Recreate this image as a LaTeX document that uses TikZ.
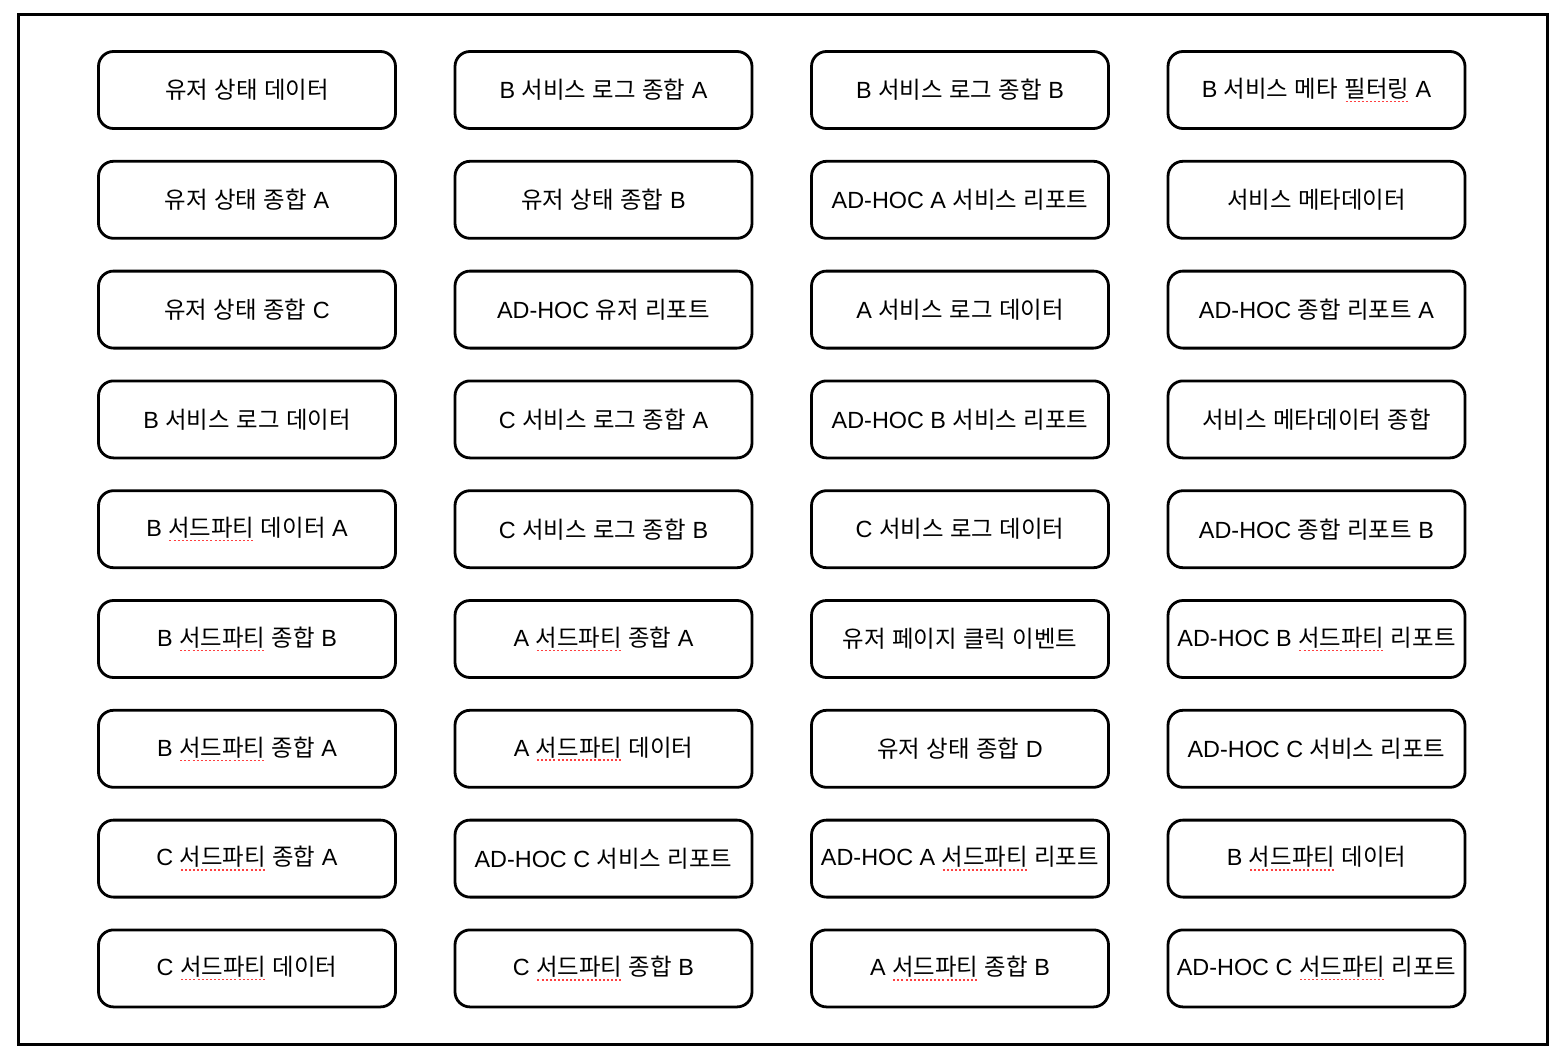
\documentclass[tikz,border=0pt]{standalone}
\usepackage{fontspec}
\setmainfont{Liberation Sans}
\newfontfamily\krfont{Noto Sans CJK KR}
\usepackage{xcolor}
\usetikzlibrary{positioning}

% Hangul syllables in the Korean font, the rest in Liberation Sans
\XeTeXinterchartokenstate=1
\newXeTeXintercharclass\hangulclass
\newcount\hcnt \hcnt="AC00
\loop\ifnum\hcnt<"D7A4 \XeTeXcharclass\hcnt=\hangulclass \advance\hcnt by 1 \repeat
\XeTeXinterchartoks 0 \hangulclass={\begingroup\krfont}
\XeTeXinterchartoks 4095 \hangulclass={\begingroup\krfont}
\XeTeXinterchartoks \hangulclass 0={\endgroup}
\XeTeXinterchartoks \hangulclass 4095={\endgroup}

% red dotted spell-check line under a word
\newcommand\typo[1]{\setbox0\hbox{#1}\rlap{\raisebox{-2.4pt}{\textcolor{red!75}{\hbox to \wd0{\xleaders\hbox to 2pt{\hss\rule{1pt}{0.7pt}\hss}\hfill}}}}\box0\relax}

\begin{document}
\begin{tikzpicture}[
  every node/.style={font=\fontsize{11.7}{14}\selectfont},
  tbl/.style={rectangle,draw,line width=1.4pt,rounded corners=7.5pt,outer sep=0pt,
    minimum width=148.5pt,minimum height=38.5pt,inner sep=1pt},
  frame/.style={draw,line width=1.5pt}
]
\useasboundingbox (0,0) rectangle (781pt,-532pt);
\draw[frame] (9.25pt,-7.5pt) rectangle (773.9pt,-522pt);

% column 1
\node[tbl] (userdata) at (123.5pt,-45pt) {유저 상태 데이터};
\node[tbl, below=16.4pt of userdata] (usersumA) {유저 상태 종합 A};
\node[tbl, below=16.4pt of usersumA] (usersumC) {유저 상태 종합 C};
\node[tbl, below=16.4pt of usersumC] (blogdata) {B 서비스 로그 데이터};
\node[tbl, below=16.4pt of blogdata] (bthirddataA) {B \typo{서드파티} 데이터 A};
\node[tbl, below=16.4pt of bthirddataA] (bthirdsumB) {B \typo{서드파티} 종합 B};
\node[tbl, below=16.4pt of bthirdsumB] (bthirdsumA) {B \typo{서드파티} 종합 A};
\node[tbl, below=16.4pt of bthirdsumA] (cthirdsumA) {C \typo{서드파티} 종합 A};
\node[tbl, below=16.4pt of cthirdsumA] (cthirddata) {C \typo{서드파티} 데이터};

% column 2
\node[tbl, right=29.75pt of userdata] (blogsumA) {B 서비스 로그 종합 A};
\node[tbl, below=16.4pt of blogsumA] (usersumB) {유저 상태 종합 B};
\node[tbl, below=16.4pt of usersumB] (adhocuser) {AD-HOC 유저 리포트};
\node[tbl, below=16.4pt of adhocuser] (clogsumA) {C 서비스 로그 종합 A};
\node[tbl, below=16.4pt of clogsumA] (clogsumB) {C 서비스 로그 종합 B};
\node[tbl, below=16.4pt of clogsumB] (athirdsumA) {A \typo{서드파티} 종합 A};
\node[tbl, below=16.4pt of athirdsumA] (athirddata) {A \typo{서드파티} 데이터};
\node[tbl, below=16.4pt of athirddata] (adhocsvcC) {AD-HOC C 서비스 리포트};
\node[tbl, below=16.4pt of adhocsvcC] (cthirdsumB) {C \typo{서드파티} 종합 B};

% column 3
\node[tbl, right=29.75pt of blogsumA] (blogsumB) {B 서비스 로그 종합 B};
\node[tbl, below=16.4pt of blogsumB] (adhocsvcA) {AD-HOC A 서비스 리포트};
\node[tbl, below=16.4pt of adhocsvcA] (alogdata) {A 서비스 로그 데이터};
\node[tbl, below=16.4pt of alogdata] (adhocsvcB) {AD-HOC B 서비스 리포트};
\node[tbl, below=16.4pt of adhocsvcB] (clogdata) {C 서비스 로그 데이터};
\node[tbl, below=16.4pt of clogdata] (userclick) {유저 페이지 클릭 이벤트};
\node[tbl, below=16.4pt of userclick] (usersumD) {유저 상태 종합 D};
\node[tbl, below=16.4pt of usersumD] (adhocthirdA) {AD-HOC A \typo{서드파티} 리포트};
\node[tbl, below=16.4pt of adhocthirdA] (athirdsumB) {A \typo{서드파티} 종합 B};

% column 4
\node[tbl, right=29.75pt of blogsumB] (bmetafilter) {B 서비스 메타 \typo{필터링} A};
\node[tbl, below=16.4pt of bmetafilter] (svcmeta) {서비스 메타데이터};
\node[tbl, below=16.4pt of svcmeta] (adhocsumA) {AD-HOC 종합 리포트 A};
\node[tbl, below=16.4pt of adhocsumA] (svcmetasum) {서비스 메타데이터 종합};
\node[tbl, below=16.4pt of svcmetasum] (adhocsumB) {AD-HOC 종합 리포트 B};
\node[tbl, below=16.4pt of adhocsumB] (adhocthirdB) {AD-HOC B \typo{서드파티} 리포트};
\node[tbl, below=16.4pt of adhocthirdB] (adhocsvcCc) {AD-HOC C 서비스 리포트};
\node[tbl, below=16.4pt of adhocsvcCc] (bthirddata) {B \typo{서드파티} 데이터};
\node[tbl, below=16.4pt of bthirddata] (adhocthirdC) {AD-HOC C \typo{서드파티} 리포트};
\end{tikzpicture}
\end{document}
